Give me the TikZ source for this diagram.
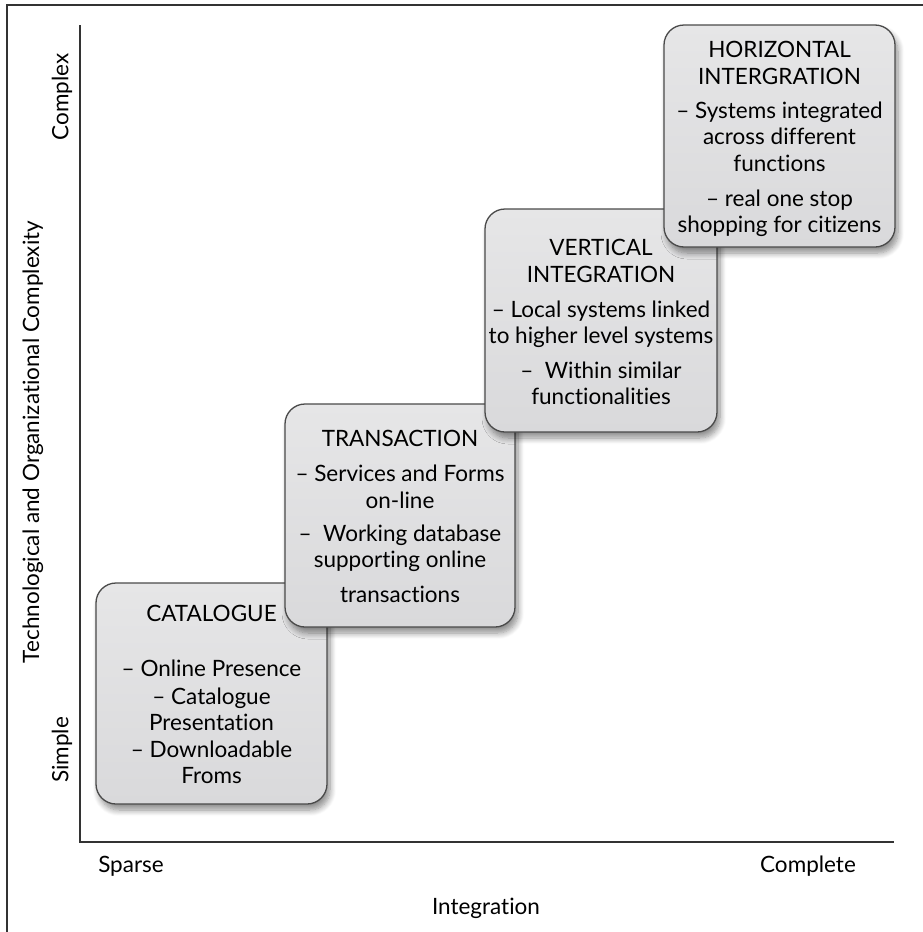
\documentclass[tikz,border=0pt]{standalone}
\usepackage{fontspec}
\setmainfont{Lato}[Ligatures=NoCommon]
\usetikzlibrary{shadows.blur}
\definecolor{edge}{HTML}{4A4A4A}
\definecolor{axis}{HTML}{333333}
\definecolor{boxtop}{HTML}{E6E6E7}
\definecolor{boxbot}{HTML}{D9D9DB}
\begin{document}
\begin{tikzpicture}[x=1pt,y=-1pt,
  stage/.style={draw=edge, line width=1.3pt, rounded corners=20pt,
    top color=boxtop, bottom color=boxbot, inner sep=0pt,
    blur shadow={shadow xshift=3pt, shadow yshift=-6pt, shadow blur steps=8, shadow blur radius=6pt, shadow opacity=45}},
  stagetext/.style={align=center, inner sep=0pt, anchor=north, text=black,
    font=\fontsize{22.5}{26.5}\selectfont},
  axislabel/.style={inner sep=0pt, text=black, font=\fontsize{22.5}{26}\selectfont},
  axisline/.style={draw=axis, line width=1.4pt}]
\useasboundingbox (0,0) rectangle (923,932);
% frame
\coordinate (fb) at (7,932);
\coordinate (fc) at (7,5);
\coordinate (fr) at (923,5);
\draw[axisline] (fb) -- (fc) -- (fr);
% axes
\coordinate (ytop) at (80,25);
\coordinate (org) at (80,842);
\coordinate (xend) at (894,842);
\draw[axisline] (ytop) -- (org) -- (xend);
% axis labels
\node[axislabel, rotate=90] (complex) at (62,97) {Complex};
\node[axislabel, rotate=90] (simple) at (62,750) {Simple};
\node[axislabel, rotate=90] (ylab) at (33,442) {Technological and Organizational Complexity};
\node[axislabel] (sparse) at (131,866) {Sparse};
\node[axislabel] (complete) at (808,866) {Complete};
\node[axislabel] (xlab) at (486,908) {Integration};
% boxes
\node[stage, minimum width=231pt, minimum height=221pt] (cat) at (211.5,693.5) {};
\node[stagetext] (cattext) at (211.5,605) {CATALOGUE\\[28pt]
  – Online Presence\\[1.5pt]
  – Catalogue\\
  Presentation\\
  – Downloadable\\
  Froms};
\node[stage, minimum width=230pt, minimum height=223pt] (tra) at (400,515.5) {};
\node[stagetext] (tratext) at (400,430) {TRANSACTION\\[8.5pt]
  – Services and Forms\\
  on-line\\[6.5pt]
  – \ Working database\\
  supporting online\\[8.5pt]
  transactions};
\node[stage, minimum width=232pt, minimum height=223pt] (ver) at (601,320.5) {};
\node[stagetext] (vertext) at (601,239) {VERTICAL\\
  INTEGRATION\\[8.5pt]
  – Local systems linked\\
  to higher level systems\\[8.5pt]
  – \ Within similar\\[-1pt]
  functionalities};
\node[stage, minimum width=231pt, minimum height=222pt] (hor) at (779.5,136) {};
\node[stagetext] (hortext) at (779.5,41) {HORIZONTAL\\
  INTERGRATION\\[7.5pt]
  – Systems integrated\\
  across different\\
  functions\\[8.5pt]
  – real one stop\\
  shopping for citizens};
\end{tikzpicture}
\end{document}
